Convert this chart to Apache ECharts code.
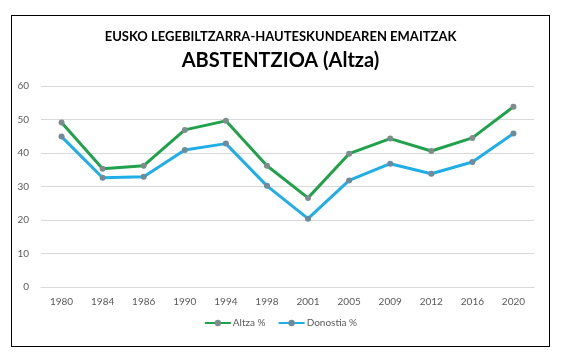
<!DOCTYPE html>
<html><head><meta charset="utf-8">
<script src="https://cdn.jsdelivr.net/npm/echarts@6/dist/echarts.min.js"></script>
<style>
html,body{margin:0;padding:0;background:#fff;}
#frame{position:absolute;left:11px;top:15px;width:537px;height:330px;border:1px solid #000;}
#c{position:absolute;left:0;top:0;width:561px;height:359px;}
</style></head>
<body>
<div id="frame"></div>
<div id="c"></div>
<script>
const categories = ['1980','1984','1986','1990','1994','1998','2001','2005','2009','2012','2016','2020'];
const altza = [49.1,35.3,36.2,46.9,49.6,36.2,26.6,39.8,44.3,40.6,44.5,53.8];
const donostia = [44.9,32.6,32.9,40.9,42.8,30.2,20.4,31.8,36.8,33.8,37.3,45.8];
const seriesNames = ['Altza %','Donostia %'];
const title1 = 'EUSKO LEGEBILTZARRA-HAUTESKUNDEAREN EMAITZAK';
const title2 = 'ABSTENTZIOA (Altza)';

const chart = echarts.init(document.getElementById('c'), null, {renderer:'canvas'});
const font = 'Lato, "Open Sans", sans-serif';
chart.setOption({
  animation:false,
  title:[
    {text:title1,left:'center',top:25,textStyle:{fontFamily:font,fontSize:13,fontWeight:'bold',color:'#000'}},
    {text:title2,left:'center',top:46,textStyle:{fontFamily:font,fontSize:20,fontWeight:'bold',color:'#000'}}
  ],
  grid:{left:41,right:27,top:86,bottom:72,containLabel:false},
  legend:{bottom:26,left:'center',itemWidth:26,itemHeight:8,itemGap:12,
    textStyle:{fontFamily:font,fontSize:10,color:'#595959',padding:[0,0,0,-3]},data:seriesNames},
  xAxis:{type:'category',data:categories,boundaryGap:true,
    axisLine:{lineStyle:{color:'#d9d9d9'}},axisTick:{show:false},
    axisLabel:{fontFamily:font,fontSize:10,color:'#595959',margin:10}},
  yAxis:{type:'value',min:0,max:60,interval:10,
    axisLine:{show:false},axisTick:{show:false},
    splitLine:{lineStyle:{color:'#d9d9d9'}},
    axisLabel:{fontFamily:font,fontSize:10,color:'#595959',margin:12}},
  series:[
    {name:seriesNames[0],type:'line',data:altza,symbol:'circle',symbolSize:6,
      lineStyle:{color:'#1fa24b',width:3},itemStyle:{color:'#7f8c8d'}},
    {name:seriesNames[1],type:'line',data:donostia,symbol:'circle',symbolSize:6,
      lineStyle:{color:'#1faee6',width:3},itemStyle:{color:'#6f8a99'}}
  ]
});
</script>
</body></html>
